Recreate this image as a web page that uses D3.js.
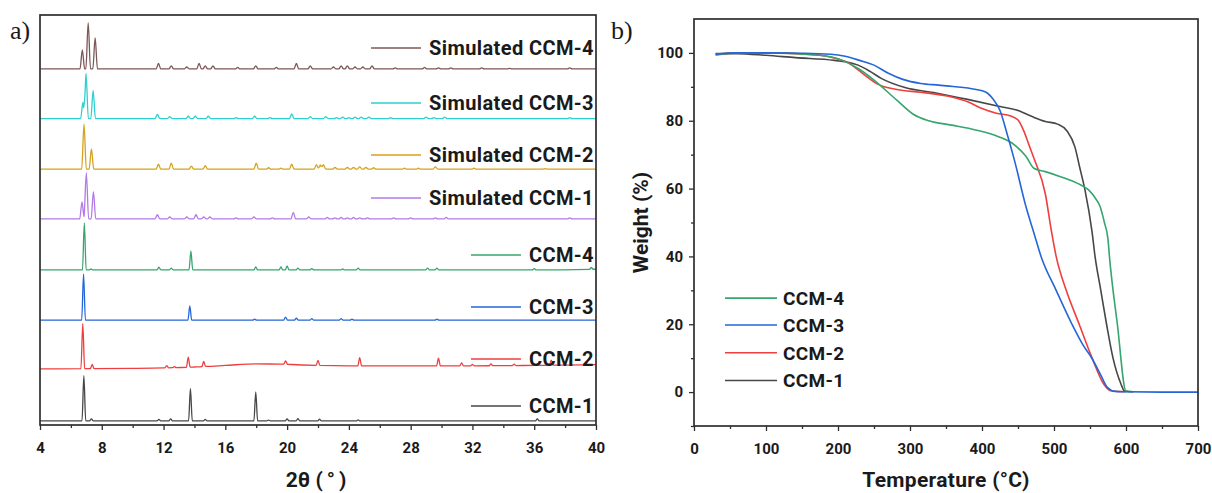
<!DOCTYPE html>
<html>
<head>
<meta charset="utf-8">
<script src="https://cdn.jsdelivr.net/npm/d3@7"></script>
<style>
  body { margin: 0; background: #fff; }
  svg { display: block; }
  text { font-family: Roboto, "DejaVu Sans", sans-serif; fill: #1a1a1a; }
  .panel-tag { font-family: "Liberation Serif", "Times New Roman", serif; font-weight: 400; }
</style>
</head>
<body>
<svg id="chart" width="1212" height="493"></svg>
<script>
// ---------- a) PXRD patterns ----------
const xrdTicks = [4, 8, 12, 16, 20, 24, 28, 32, 36, 40];
const xrdMinorTicks = [6, 10, 14, 18, 22, 26, 30, 34, 38];
const xrdNames = ["Simulated CCM-4", "Simulated CCM-3", "Simulated CCM-2", "Simulated CCM-1",
                  "CCM-4", "CCM-3", "CCM-2", "CCM-1"];
// vertical stacking offset of each pattern (a.u.)
const xrdOffsets = [774, 666, 556, 448, 337, 228, 122, 9];

// reflections as [2θ, relative intensity]
const simCcm4Peaks = [[6.74, 41], [7.12, 100], [7.57, 67], [11.67, 12], [12.5, 6.5], [13.5, 4], [14.3, 12],
  [14.7, 6.5], [15.2, 6.5], [16.8, 3], [17.97, 6.5], [19.3, 3], [20.6, 12], [21.5, 6.5], [23.0, 4],
  [23.5, 6.5], [23.9, 6.5], [24.4, 4], [24.9, 4], [25.5, 6.5], [27.0, 2], [28.9, 3], [29.8, 2],
  [30.6, 2], [32.6, 2], [34.4, 1], [38.3, 2]];
const simCcm3Peaks = [[6.78, 35], [6.98, 98], [7.44, 61], [11.6, 9], [12.4, 4], [13.6, 5], [14.05, 5],
  [14.9, 5], [16.7, 2], [17.9, 5], [18.9, 2], [20.3, 10], [21.5, 4], [22.5, 4], [23.2, 2], [23.6, 3],
  [24.0, 2], [24.4, 3], [24.8, 3], [25.3, 3], [26.7, 2], [29.0, 3], [29.5, 2], [30.2, 3], [38.3, 2]];
const simCcm2Peaks = [[6.85, 98], [7.33, 44], [11.67, 11], [12.5, 13], [13.8, 6.5], [14.7, 7.5], [18.0, 13],
  [18.8, 3], [19.6, 2], [20.3, 11], [21.9, 10], [22.15, 9], [22.35, 10], [23.1, 4], [23.9, 4], [24.3, 4],
  [24.7, 5], [25.1, 4], [25.6, 3], [27.6, 2], [28.5, 2], [29.6, 5], [32.1, 2], [36.7, 1]];
const simCcm1Peaks = [[6.72, 37], [7.0, 100], [7.46, 59], [11.6, 9], [12.4, 4], [13.5, 4], [14.1, 9],
  [14.6, 4], [15.0, 4], [16.7, 2], [17.85, 4], [19.05, 2], [20.4, 14], [21.4, 4], [22.6, 3], [23.1, 2],
  [23.5, 3], [23.9, 2], [24.3, 3], [24.7, 2], [25.2, 2], [26.9, 2], [28.0, 2], [29.6, 2], [30.3, 3], [38.3, 2]];
const ccm4Peaks = [[6.87, 102], [7.3, 2], [11.7, 6], [12.5, 4], [13.77, 41], [17.97, 6.5], [19.6, 6.5],
  [20.0, 9], [20.7, 4], [21.6, 3], [23.6, 2], [24.6, 4], [29.1, 4], [29.7, 4], [36.0, 3], [39.7, 4]];
const ccm3Peaks = [[6.82, 100], [13.7, 31], [17.9, 2], [19.9, 6.5], [20.6, 4], [21.6, 3], [23.5, 3],
  [24.2, 2], [29.7, 2]];
const ccm2Peaks = [[6.77, 98], [7.38, 9], [12.2, 5], [12.7, 2], [13.6, 22], [14.6, 11], [19.9, 7.5],
  [22.0, 11], [24.7, 18], [29.8, 17], [31.3, 6.5], [32.0, 3], [33.2, 4], [34.7, 3], [37.1, 11]];
const ccm1Peaks = [[6.84, 98], [7.33, 4.5], [11.7, 3], [12.46, 4.5], [13.74, 70], [14.7, 3], [17.97, 63],
  [18.8, 1.5], [20.0, 4.5], [20.7, 5], [22.1, 3.5], [24.6, 2], [36.2, 4.5]];

// background level of each pattern as [2θ, level]
const flatBackground = [[4, 0], [40, 0]];
const ccm4Background = [[4, 0], [36, 0], [40, 1.5]];
const ccm2Background = [[4, 0], [10, 1], [12, 2], [14, 4], [16, 7.5], [18, 11], [20, 10], [22, 7.5],
  [24, 6.5], [28, 6.5], [32, 6.5], [36, 7.5], [40, 9]];

const xrdPeaks = [simCcm4Peaks, simCcm3Peaks, simCcm2Peaks, simCcm1Peaks, ccm4Peaks, ccm3Peaks, ccm2Peaks, ccm1Peaks];
const xrdBackgrounds = [flatBackground, flatBackground, flatBackground, flatBackground,
  ccm4Background, flatBackground, ccm2Background, flatBackground];
const xrdColors = ["#7d5656", "#2fcfcf", "#d6a21c", "#b27ae6", "#37a56e", "#2466d8", "#ef3e3e", "#474747"];

// ---------- b) TGA curves ----------
const tgaXTicks = [0, 100, 200, 300, 400, 500, 600, 700];
const tgaYTicks = [0, 20, 40, 60, 80, 100];
const tgaNames = ["CCM-4", "CCM-3", "CCM-2", "CCM-1"];
const tgaColors = ["#37a56e", "#2466d8", "#ef3e3e", "#474747"];
// [temperature °C, weight %]
const tgaCcm4 = [[30, 99.5], [60, 100], [100, 100], [174, 99.3], [206, 97.8], [228, 95.4], [250, 92], [282, 86],
  [304, 82], [326, 80], [358, 78.7], [391, 77.3], [423, 75.3], [445, 72.9], [461, 69.5], [472, 66], [488, 65],
  [509, 63.5], [532, 61.6], [548, 59.6], [558, 57], [564, 54.7], [570, 50], [575, 45], [577, 40], [588, 20],
  [600, 0.3], [610, 0.1]];
const tgaCcm3 = [[30, 99.6], [60, 100], [100, 100], [150, 99.9], [190, 99.6], [210, 99], [230, 97.8], [250, 96.4],
  [270, 94], [290, 92.2], [315, 91], [340, 90.5], [360, 90.1], [390, 89.3], [405, 88.5], [415, 86.5], [425, 83],
  [435, 76], [445, 68.4], [461, 54.7], [472, 47], [482, 40], [503, 30], [525, 20], [540, 14], [552, 10.2],
  [565, 5], [574, 1.4], [585, 0.2], [600, 0.1], [650, 0], [700, 0]];
const tgaCcm2 = [[30, 99.4], [60, 100], [100, 100], [150, 99.7], [175, 99.3], [200, 98.2], [215, 97], [228, 95],
  [240, 93], [255, 90.8], [282, 89.2], [315, 88.4], [358, 87], [380, 85.6], [400, 83.6], [420, 82.2], [440, 81.4],
  [450, 80.2], [458, 77], [465, 73], [472, 69], [488, 58.4], [496, 48], [503, 40], [517, 30], [535, 20],
  [553, 10], [569, 2.4], [580, 0.3], [600, 0.1]];
const tgaCcm1 = [[30, 99.8], [60, 99.8], [100, 99.3], [141, 98.6], [195, 97.8], [228, 96.4], [245, 94.5],
  [260, 92.5], [293, 89.8], [336, 88.2], [380, 86.3], [423, 84.3], [450, 83], [472, 81], [488, 79.8], [505, 79],
  [518, 77], [529, 72.3], [536, 66], [543, 59.6], [553, 47], [557, 40], [565, 30], [573, 20], [582, 10],
  [593, 2.4], [598, 0.3], [610, 0.1]];
const tgaCurves = [tgaCcm4, tgaCcm3, tgaCcm2, tgaCcm1];

// ---------- drawing ----------
const svg = d3.select("#chart");
const axisColor = "#2e2e2e";

function frame(g, x0, x1, y0, y1) {
  g.append("rect").attr("x", x0).attr("y", y0).attr("width", x1 - x0).attr("height", y1 - y0)
    .attr("fill", "none").attr("stroke", axisColor).attr("stroke-width", 1.7);
}

function styleAxis(sel) {
  sel.select(".domain").remove();
  sel.selectAll(".tick line").attr("stroke", axisColor).attr("stroke-width", 1.3);
  sel.selectAll(".tick text").attr("font-size", 15).attr("font-weight", 700).attr("fill", "#1a1a1a");
}

// panel a
const A = { x0: 40, x1: 596, y0: 15, y1: 425 };
const xA = d3.scaleLinear().domain([4, 40]).range([A.x0, A.x1]);
const yA = d3.scaleLinear().domain([0, 891]).range([A.y1, A.y0]);
const gA = svg.append("g");

// pattern = background (linear between knots) plus a narrow profile per reflection
function patternPoints(peaks, background, hw) {
  const bg = d3.scaleLinear().domain(background.map(d => d[0])).range(background.map(d => d[1]));
  const xs = new Set([4, 40, ...background.map(d => d[0])]);
  peaks.forEach(([p]) => { xs.add(p - hw); xs.add(p); xs.add(p + hw); });
  return [...xs].filter(x => x >= 4 && x <= 40).sort((a, b) => a - b).map(x => {
    let y = bg(x);
    peaks.forEach(([p, h]) => { y += Math.max(0, h * (1 - Math.abs(x - p) / hw)); });
    return [x, y];
  });
}

const lineA = d3.line().x(d => xA(d[0])).y(d => yA(d[1])).curve(d3.curveMonotoneX);
xrdPeaks.forEach((peaks, i) => {
  const hw = i < 4 ? 0.15 : 0.12;
  const off = xrdOffsets[i];
  const pts = patternPoints(peaks, xrdBackgrounds[i], hw).map(([x, y]) => [x, y + off]);
  gA.append("path").attr("d", lineA(pts)).attr("fill", "none")
    .attr("stroke", xrdColors[i]).attr("stroke-width", 1.3).attr("stroke-linejoin", "round");
});

// legend entries beside each pattern
const legendRowA = [48, 103, 155, 198, 255, 307, 359, 406];
xrdNames.forEach((name, i) => {
  const t = gA.append("text").attr("x", 594).attr("y", legendRowA[i]).attr("dy", "0.36em")
    .attr("text-anchor", "end").attr("font-size", 20).attr("font-weight", 700)
    .attr("letter-spacing", 0.4).text(name);
  const w = t.node().getComputedTextLength();
  gA.append("line").attr("x1", 594 - w - 58).attr("x2", 594 - w - 8)
    .attr("y1", legendRowA[i]).attr("y2", legendRowA[i])
    .attr("stroke", xrdColors[i]).attr("stroke-width", 1.5);
});

frame(gA, A.x0, A.x1, A.y0, A.y1);
gA.append("g").attr("transform", `translate(0,${A.y1})`)
  .call(d3.axisBottom(xA).tickValues(xrdTicks).tickSize(5).tickPadding(12).tickFormat(d3.format("d")))
  .call(styleAxis);
gA.append("g").attr("transform", `translate(0,${A.y1})`)
  .call(d3.axisBottom(xA).tickValues(xrdMinorTicks).tickSize(3).tickFormat(""))
  .call(styleAxis);
const titleA = gA.append("text").attr("x", (A.x0 + A.x1) / 2).attr("y", 487).attr("text-anchor", "middle")
  .attr("font-size", 21).attr("font-weight", 700);
titleA.append("tspan").text("2θ ");
titleA.append("tspan").attr("letter-spacing", 4).text("(°)");
gA.append("text").attr("class", "panel-tag").attr("x", 10).attr("y", 39).attr("font-size", 26).text("a)");

// panel b
const B = { x0: 694, x1: 1198, y0: 19, y1: 426 };
const xB = d3.scaleLinear().domain([0, 700]).range([B.x0, B.x1]);
const yB = d3.scaleLinear().domain([-10, 110]).range([B.y1, B.y0]);
const gB = svg.append("g");
const lineB = d3.line().x(d => xB(d[0])).y(d => yB(d[1])).curve(d3.curveMonotoneX);
[3, 2, 0, 1].forEach(i => {
  gB.append("path").attr("d", lineB(tgaCurves[i])).attr("fill", "none")
    .attr("stroke", tgaColors[i]).attr("stroke-width", 1.6).attr("stroke-linejoin", "round");
});

frame(gB, B.x0, B.x1, B.y0, B.y1);
gB.append("g").attr("transform", `translate(0,${B.y1})`)
  .call(d3.axisBottom(xB).tickValues(tgaXTicks).tickSize(5).tickPadding(12).tickFormat(d3.format("d")))
  .call(styleAxis);
gB.append("g").attr("transform", `translate(0,${B.y1})`)
  .call(d3.axisBottom(xB).tickValues(d3.range(50, 700, 100)).tickSize(3).tickFormat(""))
  .call(styleAxis);
gB.append("g").attr("transform", `translate(${B.x0},0)`)
  .call(d3.axisLeft(yB).tickValues(tgaYTicks).tickSize(5).tickPadding(6).tickFormat(d3.format("d")))
  .call(styleAxis);
gB.append("g").attr("transform", `translate(${B.x0},0)`)
  .call(d3.axisLeft(yB).tickValues([-10, 10, 30, 50, 70, 90]).tickSize(3).tickFormat(""))
  .call(styleAxis);

gB.append("text").attr("x", (B.x0 + B.x1) / 2).attr("y", 487).attr("text-anchor", "middle")
  .attr("font-size", 21).attr("font-weight", 700).attr("letter-spacing", 0.3).text("Temperature (°C)");
gB.append("text").attr("transform", `translate(648,${(B.y0 + B.y1) / 2}) rotate(-90)`)
  .attr("text-anchor", "middle").attr("font-size", 21).attr("font-weight", 700).text("Weight (%)");
gB.append("text").attr("class", "panel-tag").attr("x", 611).attr("y", 39).attr("font-size", 26).text("b)");

// legend for panel b
const legendB = gB.append("g");
tgaNames.forEach((name, i) => {
  const y = yB([27.7, 19.8, 11.6, 3.4][i]);
  legendB.append("line").attr("x1", 725).attr("x2", 777).attr("y1", y).attr("y2", y)
    .attr("stroke", tgaColors[i]).attr("stroke-width", 1.6);
  legendB.append("text").attr("x", 783).attr("y", y).attr("dy", "0.36em")
    .attr("font-size", 19).attr("font-weight", 700).attr("letter-spacing", 0.3).text(name);
});
</script>
</body>
</html>
